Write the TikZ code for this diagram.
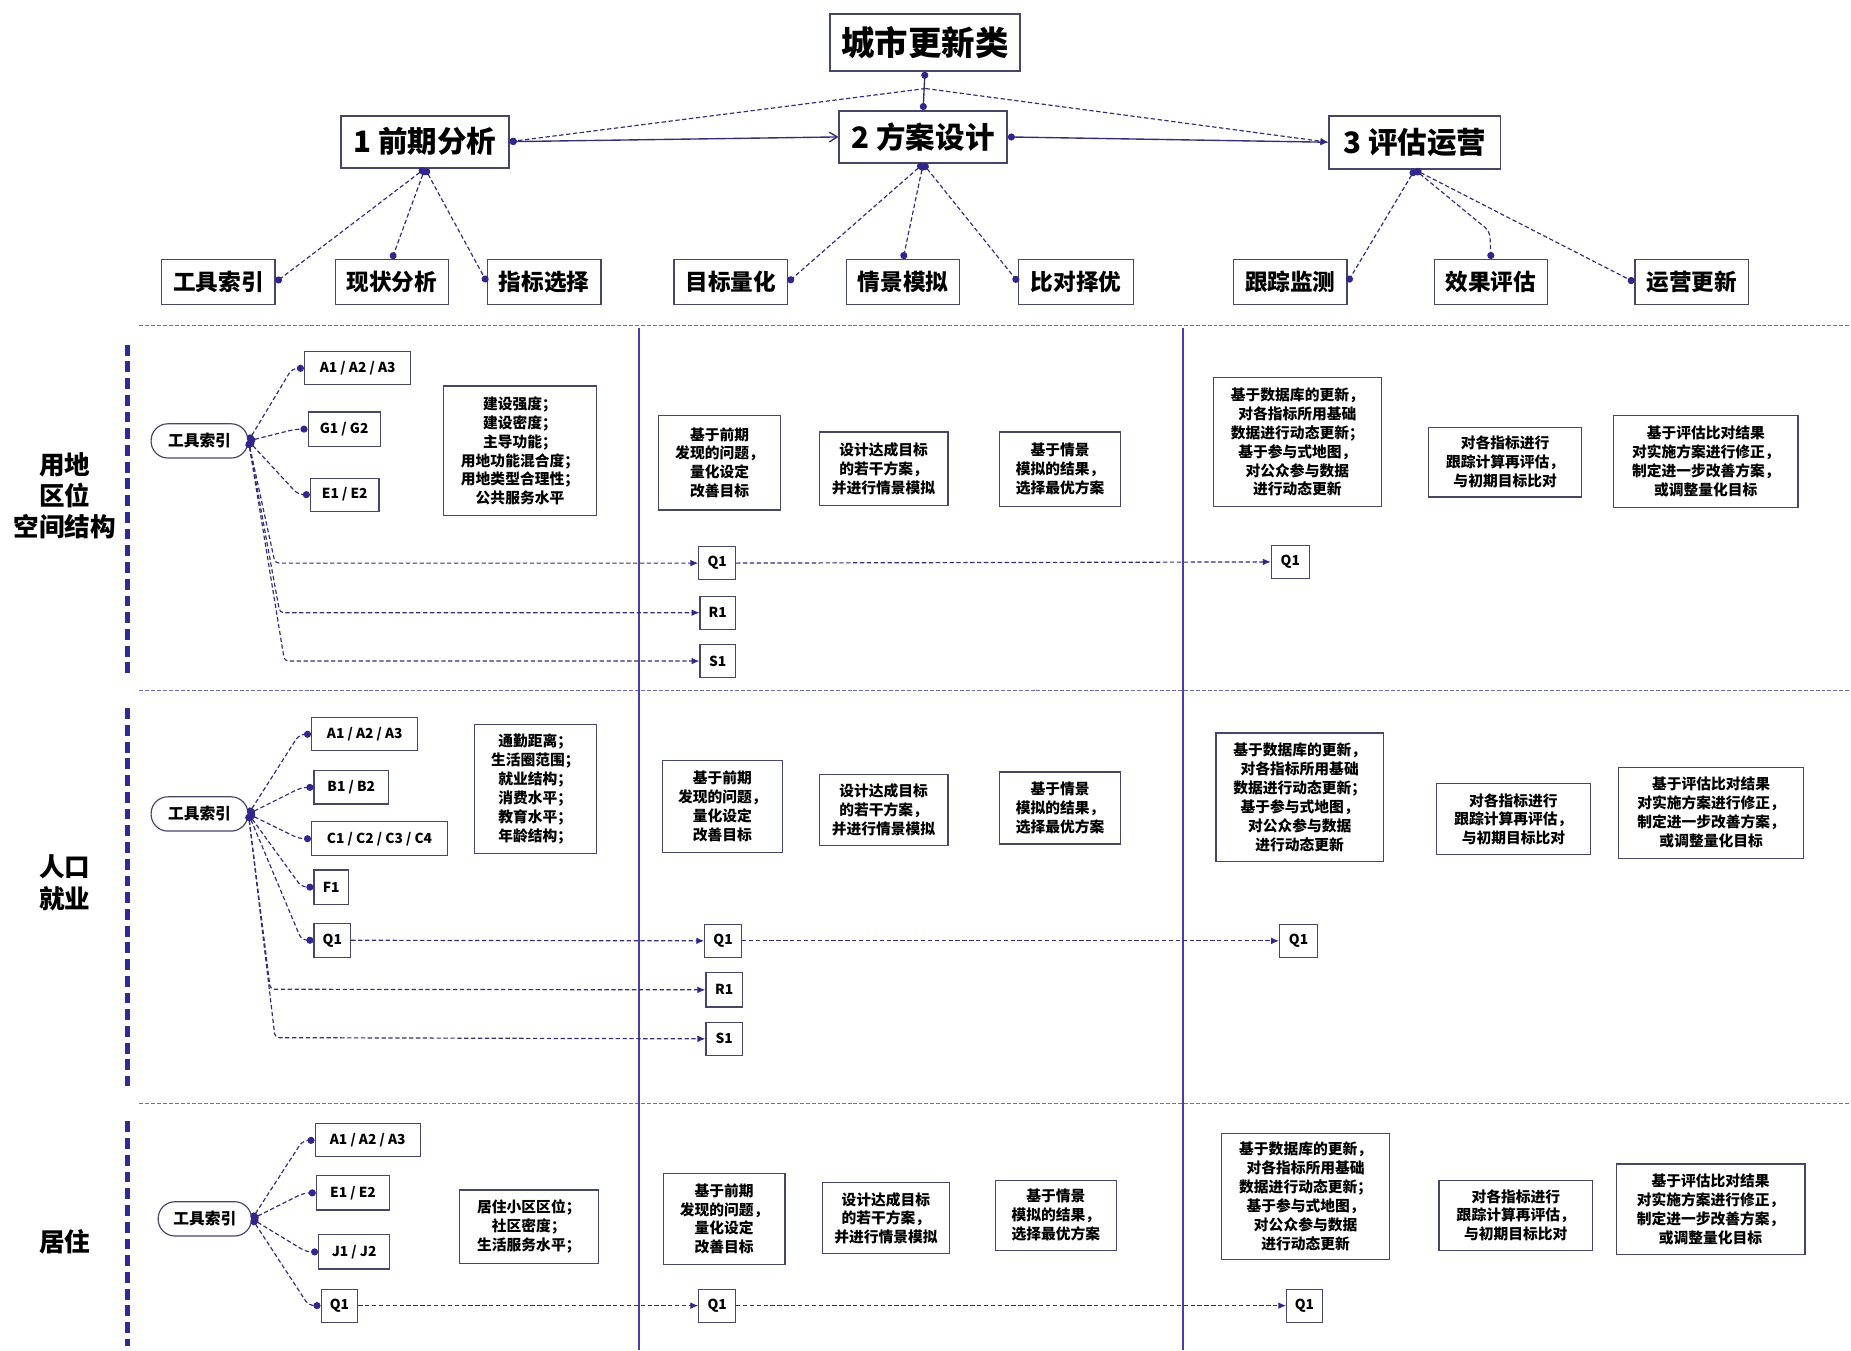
\documentclass[tikz,border=0pt]{standalone}
\usepackage{fontspec}
\setmainfont{Noto Sans CJK SC}
\usetikzlibrary{arrows.meta,calc}
\definecolor{lc}{RGB}{52,46,120}
\definecolor{dotc}{RGB}{48,38,140}
\definecolor{bdc}{RGB}{70,70,105}
\definecolor{vlc}{RGB}{72,62,170}
\definecolor{sepc}{RGB}{110,110,170}
\definecolor{barc}{RGB}{44,44,150}
\newcommand\mybox[7][bx]{%
  \pgfmathsetmacro\mbw{(#5-#3)*0.6}%
  \pgfmathsetmacro\mbh{(#6-#4)*0.6}%
  \node[#1,minimum width=\mbw pt,minimum height=\mbh pt] (#2) at ({(#3+#5)/2},{(#4+#6)/2}) {#7};}
\newcommand\txtA{基于前期\\发现的问题，\\量化设定\\改善目标}
\newcommand\txtB{设计达成目标\\的若干方案，\\并进行情景模拟}
\newcommand\txtC{基于情景\\模拟的结果，\\选择最优方案}
\newcommand\txtD{基于数据库的更新，\\对各指标所用基础\\数据进行动态更新；\\基于参与式地图，\\对公众参与数据\\进行动态更新}
\newcommand\txtE{对各指标进行\\跟踪计算再评估，\\与初期目标比对}
\newcommand\txtF{基于评估比对结果\\对实施方案进行修正，\\制定进一步改善方案，\\或调整量化目标}
\tikzset{
  bx/.style={draw=bdc, line width=0.6pt, inner sep=0pt, align=center, text=black,
    font=\fontsize{7.5}{9.6}\selectfont\bfseries},
  cb/.style={bx, font=\fontsize{7}{8}\selectfont\bfseries},
  pill/.style={bx, rounded corners=8.5pt, font=\fontsize{8}{9}\selectfont\bfseries},
  topb/.style={draw=bdc, line width=0.9pt, inner sep=0pt, text=black,
    font=\fontsize{17}{20}\selectfont\bfseries},
  lvone/.style={topb, font=\fontsize{15}{18}\selectfont\bfseries},
  lvtwo/.style={draw=bdc, line width=0.7pt, inner sep=0pt, text=black,
    font=\fontsize{11.5}{14}\selectfont\bfseries},
  dc/.style={draw=lc, line width=0.6pt, dash pattern=on 2.2pt off 1.3pt},
  sc/.style={draw=lc, line width=0.7pt},
  dots/.style={{Circle[length=3.6pt,width=3.6pt,color=dotc]}-{Circle[length=3.6pt,width=3.6pt,color=dotc]}},
  dotarr/.style={{Circle[length=3.6pt,width=3.6pt,color=dotc]}-{Latex[length=4pt,width=3.4pt,color=dotc]}},
  arr/.style={-{Latex[length=4pt,width=3.4pt,color=dotc]}},
  sep/.style={draw=sepc, line width=0.6pt, dash pattern=on 2pt off 1pt},
  vline/.style={draw=vlc, line width=1.1pt},
  bar/.style={draw=barc, line width=2.4pt, dash pattern=on 5.5pt off 3pt},
  side/.style={align=center, text=black, font=\fontsize{13}{16}\selectfont\bfseries},
}
\begin{document}
\begin{tikzpicture}[x=0.6pt,y=-0.6pt]
\fill[white] (0,0) rectangle (1568,1144);
\useasboundingbox (0,0) rectangle (1568,1144);

% ---------- top part ----------
\mybox[topb]{title}{703}{12}{864}{60}{城市更新类}
\mybox[lvone]{p1}{289}{98}{431}{142}{1 前期分析}
\mybox[lvone]{p2}{711}{94}{853}{138}{2 方案设计}
\mybox[lvone]{p3}{1126}{98}{1271}{143}{3 评估运营}
\coordinate (jn) at (784,75);

\mybox[lvtwo]{l11}{137}{220}{233}{258}{工具索引}
\mybox[lvtwo]{l12}{284}{220}{380}{258}{现状分析}
\mybox[lvtwo]{l13}{413}{220}{509}{258}{指标选择}
\mybox[lvtwo]{l21}{571}{220}{667}{258}{目标量化}
\mybox[lvtwo]{l22}{717}{220}{813}{258}{情景模拟}
\mybox[lvtwo]{l23}{863}{220}{960}{258}{比对择优}
\mybox[lvtwo]{l31}{1045}{220}{1141}{258}{跟踪监测}
\mybox[lvtwo]{l32}{1215}{220}{1311}{258}{效果评估}
\mybox[lvtwo]{l33}{1385}{220}{1481}{258}{运营更新}

\draw[sc,dots] (title.south) -- (p2.north);
\draw[dc,-{Circle[length=3.6pt,width=3.6pt,color=dotc]}] (jn) -- (p1.east);
\draw[dc,-{Latex[length=4pt,width=3.4pt,color=dotc]}] (jn) -- (p3.west);
\draw[sc,{Circle[length=3.6pt,width=3.6pt,color=dotc]}-{Straight Barb[length=4pt,width=5pt]}] (p1.east) -- (p2.west);
\draw[sc,dotarr] (p2.east) -- (p3.west);

\draw[dc,dots] (p1.south) -- (l11.east);
\draw[dc,dots] (p1.south) -- (l12.north);
\draw[dc,dots] (p1.south) -- (l13.west);
\draw[dc,dots] (p2.south) -- (l21.east);
\draw[dc,dots] (p2.south) -- (l22.north);
\draw[dc,dots] (p2.south) -- (l23.west);
\draw[dc,dots] (p3.south) -- (l31.east);
\draw[dc,dots,rounded corners=3pt] (p3.south) -- (1262,196) -- (l32.north);
\draw[dc,dots] (p3.south) -- (l33.west);

% ---------- frame lines ----------
\draw[sep] (118,276) -- (1568,276);
\draw[sep] (118,585) -- (1568,585);
\draw[sep] (118,935) -- (1568,935);
\draw[vline] (541,278) -- (541,1144);
\draw[vline] (1002,278) -- (1002,1144);
\draw[bar] (108,292) -- (108,570);
\draw[bar] (108,600) -- (108,920);
\draw[bar] (108,950) -- (108,1140);

\node[side] (lab1) at (55,420) {用地\\区位\\空间结构};
\node[side] (lab2) at (55,748) {人口\\就业};
\node[side] (lab3) at (55,1052) {居住};

% ---------- section 1 ----------
\mybox[pill]{ta}{128}{359}{210}{388}{工具索引}
\mybox[cb]{a1a}{258}{298}{348}{326}{A1 / A2 / A3}
\mybox[cb]{g1a}{261}{349}{322}{378}{G1 / G2}
\mybox[cb]{e1a}{263}{405}{321}{433}{E1 / E2}
\mybox{ia}{376}{327}{505}{437}{建设强度；\\建设密度；\\主导功能；\\用地功能混合度；\\用地类型合理性；\\公共服务水平}
\mybox[cb]{q1a}{592}{463}{623}{491}{Q1}
\mybox[cb]{r1a}{593}{505}{623}{533}{R1}
\mybox[cb]{s1a}{593}{546}{623}{574}{S1}
\mybox[cb]{q2a}{1077}{462}{1109}{490}{Q1}
\mybox{c2a1}{558}{352}{661}{432}{\txtA}
\mybox{c2a2}{694}{366}{803}{428}{\txtB}
\mybox{c2a3}{847}{366}{949}{429}{\txtC}
\mybox{c3a1}{1028}{320}{1170}{429}{\txtD}
\mybox{c3a2}{1210}{362}{1340}{421}{\txtE}
\mybox{c3a3}{1367}{352}{1523}{430}{\txtF}

\draw[dc,dots,rounded corners=3pt] (ta.east) -- ($(a1a.west)+(-10,0)$) -- (a1a.west);
\draw[dc,dots,rounded corners=3pt] (ta.east) -- ($(g1a.west)+(-10,0)$) -- (g1a.west);
\draw[dc,dots,rounded corners=3pt] (ta.east) -- ($(e1a.west)+(-10,0)$) -- (e1a.west);
\draw[dc,dotarr,rounded corners=2pt] (ta.east) -- (233,477) -- (q1a.west);
\draw[dc,dotarr,rounded corners=2pt] (ta.east) -- (237,519) -- (r1a.west);
\draw[dc,dotarr,rounded corners=2pt] (ta.east) -- (241,560) -- (s1a.west);
\draw[dc,arr] (q1a.east) -- (q2a.west);

% ---------- section 2 ----------
\mybox[pill]{tb}{128}{675}{210}{704}{工具索引}
\mybox[cb]{a1b}{264}{608}{354}{636}{A1 / A2 / A3}
\mybox[cb]{b1b}{266}{653}{329}{681}{B1 / B2}
\mybox[cb]{c1b}{264}{696}{379}{725}{C1 / C2 / C3 / C4}
\mybox[cb]{f1b}{266}{737}{295}{766}{F1}
\mybox[cb]{q0b}{266}{782}{297}{811}{Q1}
\mybox{ib}{402}{614}{505}{723}{通勤距离；\\生活圈范围；\\就业结构；\\消费水平；\\教育水平；\\年龄结构；}
\mybox[cb]{q1b}{597}{783}{628}{811}{Q1}
\mybox[cb]{r1b}{598}{824}{629}{853}{R1}
\mybox[cb]{s1b}{598}{866}{629}{894}{S1}
\mybox[cb]{q2b}{1084}{783}{1116}{811}{Q1}
\mybox{c2b1}{561}{644}{663}{722}{\txtA}
\mybox{c2b2}{694}{656}{803}{716}{\txtB}
\mybox{c2b3}{847}{654}{949}{715}{\txtC}
\mybox{c3b1}{1030}{621}{1172}{730}{\txtD}
\mybox{c3b2}{1217}{664}{1347}{724}{\txtE}
\mybox{c3b3}{1371}{650}{1528}{727}{\txtF}

\draw[dc,dots,rounded corners=3pt] (tb.east) -- ($(a1b.west)+(-10,0)$) -- (a1b.west);
\draw[dc,dots,rounded corners=3pt] (tb.east) -- ($(b1b.west)+(-10,0)$) -- (b1b.west);
\draw[dc,dots,rounded corners=3pt] (tb.east) -- ($(c1b.west)+(-10,0)$) -- (c1b.west);
\draw[dc,dots,rounded corners=3pt] (tb.east) -- ($(f1b.west)+(-10,0)$) -- (f1b.west);
\draw[dc,dots,rounded corners=3pt] (tb.east) -- ($(q0b.west)+(-10,0)$) -- (q0b.west);
\draw[dc,dotarr,rounded corners=2pt] (tb.east) -- (229,838) -- (r1b.west);
\draw[dc,dotarr,rounded corners=2pt] (tb.east) -- (233,879) -- (s1b.west);
\draw[dc,arr] (q0b.east) -- (q1b.west);
\draw[dc,arr] (q1b.east) -- (q2b.west);

% ---------- section 3 ----------
\mybox[pill]{tc}{134}{1018}{213}{1047}{工具索引}
\mybox[cb]{a1c}{267}{952}{356}{980}{A1 / A2 / A3}
\mybox[cb]{e1c}{268}{996}{330}{1025}{E1 / E2}
\mybox[cb]{j1c}{270}{1046}{330}{1075}{J1 / J2}
\mybox[cb]{q0c}{272}{1092}{303}{1120}{Q1}
\mybox{ic}{389}{1008}{507}{1070}{居住小区区位；\\社区密度；\\生活服务水平；}
\mybox[cb]{q1c}{592}{1092}{623}{1120}{Q1}
\mybox[cb]{q2c}{1090}{1092}{1120}{1120}{Q1}
\mybox{c2c1}{562}{994}{665}{1071}{\txtA}
\mybox{c2c2}{697}{1002}{804}{1062}{\txtB}
\mybox{c2c3}{843}{1000}{946}{1059}{\txtC}
\mybox{c3c1}{1035}{960}{1177}{1067}{\txtD}
\mybox{c3c2}{1219}{1000}{1349}{1059}{\txtE}
\mybox{c3c3}{1369}{986}{1529}{1063}{\txtF}

\draw[dc,dots,rounded corners=3pt] (tc.east) -- ($(a1c.west)+(-10,0)$) -- (a1c.west);
\draw[dc,dots,rounded corners=3pt] (tc.east) -- ($(e1c.west)+(-10,0)$) -- (e1c.west);
\draw[dc,dots,rounded corners=3pt] (tc.east) -- ($(j1c.west)+(-10,0)$) -- (j1c.west);
\draw[dc,dots,rounded corners=3pt] (tc.east) -- ($(q0c.west)+(-10,0)$) -- (q0c.west);
\draw[dc,arr] (q0c.east) -- (q1c.west);
\draw[dc,arr] (q1c.east) -- (q2c.west);
\end{tikzpicture}
\end{document}
